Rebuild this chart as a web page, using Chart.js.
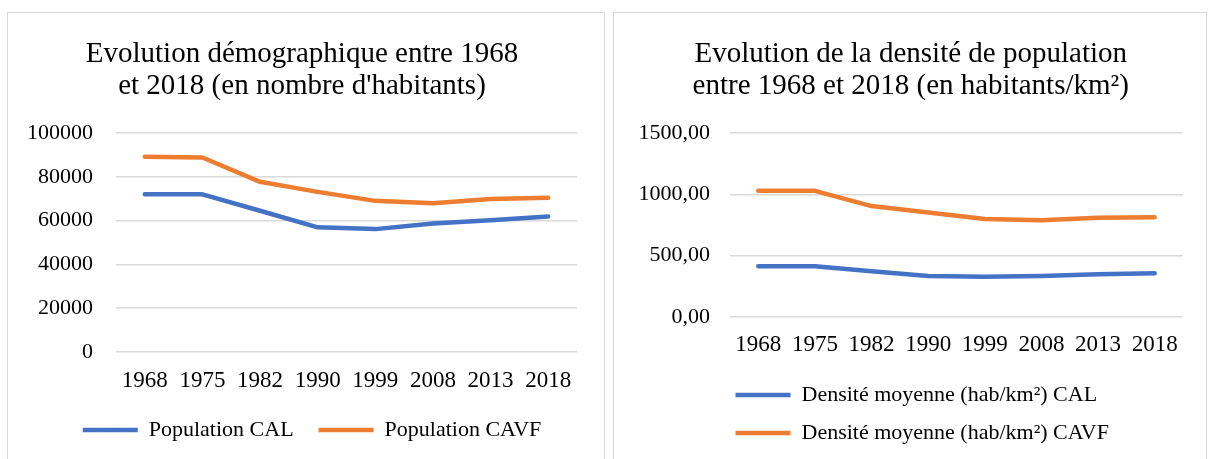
<!DOCTYPE html>
<html>
<head>
<meta charset="utf-8">
<script src="https://cdn.jsdelivr.net/npm/chart.js@4"></script>
<style>
  body { margin: 0; background: #fff; }
  .panel { position: absolute; top: 12px; height: 470px; border: 1px solid #d9d9d9; box-sizing: border-box; }
  #p1 { left: 7px; width: 598px; }
  #p2 { left: 613px; width: 594px; }
  canvas { display: block; }
</style>
</head>
<body>
<div class="panel" id="p1"><canvas id="popChart" width="596" height="446"></canvas></div>
<div class="panel" id="p2"><canvas id="densChart" width="592" height="446"></canvas></div>
<script>
// donnees
const annees = ['1968', '1975', '1982', '1990', '1999', '2008', '2013', '2018'];
const popCAL = [72000, 72000, 64500, 56900, 56100, 58700, 60200, 61900];
const popCAVF = [89100, 88800, 77700, 73100, 69000, 67900, 69800, 70400];
const densCAL = [413, 413, 372, 334, 328, 334, 348, 356];
const densCAVF = [1028, 1028, 904, 852, 798, 788, 809, 814];
const ticksPop = [0, 20000, 40000, 60000, 80000, 100000];
const ticksDens = [0, 500, 1000, 1500];

const bleu = '#4472c4';
const orange = '#ed7d31';
const police = 'Liberation Serif';

// decale la legende apres le placement
const legendShift = {
    id: 'legendShift',
    afterLayout(chart, args, opts) {
        const lg = chart.legend;
        lg.left += opts.dx || 0;
        lg.right += opts.dx || 0;
        lg.top += opts.dy || 0;
        lg.bottom += opts.dy || 0;
    }
};

function serie(label, data, color) {
    return {
        label: label,
        data: data,
        borderColor: color,
        backgroundColor: color,
        borderWidth: 4.5,
        borderCapStyle: 'round',
        borderJoinStyle: 'round',
        pointRadius: 0,
        tension: 0
    };
}

function creerGraphique(id, titre, datasets, ticks, format, opts) {
    new Chart(document.getElementById(id), {
        type: 'line',
        data: { labels: annees, datasets: datasets },
        plugins: [legendShift],
        options: {
            responsive: false,
            animation: false,
            layout: { padding: opts.padding },
            plugins: {
                title: {
                    display: true,
                    text: titre,
                    color: '#000',
                    font: { family: police, size: 29, weight: 'normal', lineHeight: 1.12 },
                    padding: { top: 25, bottom: 30 }
                },
                legend: {
                    position: 'bottom',
                    align: opts.legendAlign,
                    maxHeight: opts.legendHeight,
                    labels: {
                        usePointStyle: true,
                        pointStyle: 'line',
                        pointStyleWidth: 55,
                        padding: opts.legendPadding,
                        color: '#000',
                        font: { family: police, size: 22 }
                    }
                },
                legendShift: opts.shift,
                tooltip: { enabled: false }
            },
            scales: {
                x: {
                    offset: true,
                    grid: { display: false, drawTicks: false },
                    border: { display: false },
                    ticks: { color: '#000', padding: opts.xPad, maxRotation: 0, font: { family: police, size: 23 } }
                },
                y: {
                    min: ticks[0],
                    max: ticks[ticks.length - 1],
                    afterBuildTicks: s => { s.ticks = ticks.map(v => ({ value: v })); },
                    // chart.js compte le padding deux fois
                    afterFit: s => { s.width -= s.options.ticks.padding; },
                    grid: { color: '#d9d9d9', lineWidth: 1.5, drawTicks: false },
                    border: { display: false },
                    ticks: { color: '#000', padding: opts.yPad, font: { family: police, size: 22 }, callback: format }
                }
            }
        }
    });
}

creerGraphique('popChart',
    ['Evolution démographique entre 1968', "et 2018 (en nombre d'habitants)"],
    [serie('Population CAL', popCAL, bleu), serie('Population CAVF', popCAVF, orange)],
    ticksPop,
    v => String(v),
    { padding: { left: 19, right: 27, top: 0, bottom: 0 }, yPad: 23, xPad: 15.2, legendAlign: 'center',
      legendPadding: 25, legendHeight: 49, shift: { dx: 10, dy: -16 } });

creerGraphique('densChart',
    ['Evolution de la densité de population', 'entre 1968 et 2018 (en habitants/km²)'],
    [serie('Densité moyenne (hab/km²) CAL', densCAL, bleu), serie('Densité moyenne (hab/km²) CAVF', densCAVF, orange)],
    ticksDens,
    v => v.toFixed(2).replace('.', ','),
    { padding: { left: 24.5, right: 23, top: 0, bottom: 0 }, yPad: 20, xPad: 14.2, legendAlign: 'start',
      legendPadding: 16, legendHeight: 86, shift: { dx: 81, dy: -5 } });
</script>
</body>
</html>
